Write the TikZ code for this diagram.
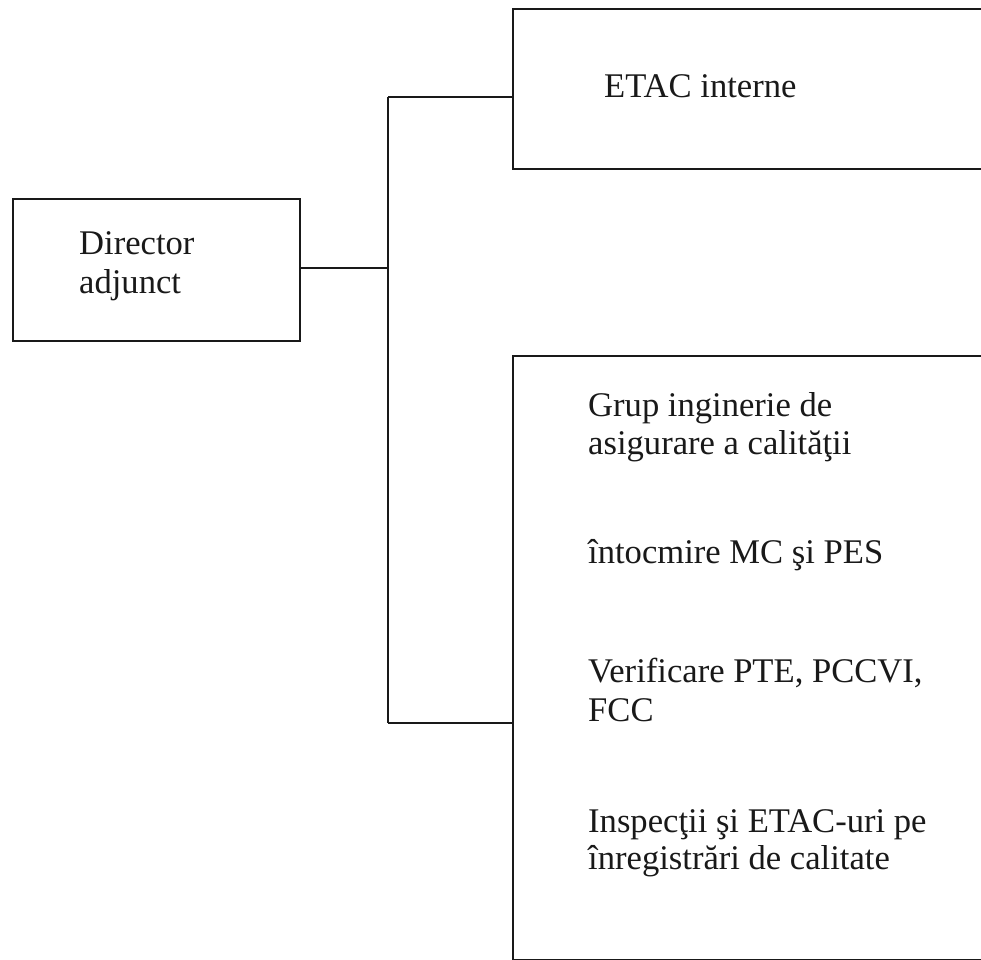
\documentclass[tikz,border=0pt]{standalone}
\usepackage{fontspec}
\setmainfont{Liberation Serif}
\begin{document}
\begin{tikzpicture}[x=1pt,y=-1pt,
  box/.style={draw=black!90, line width=2.2pt, inner sep=0pt, anchor=north west},
  conn/.style={draw=black!90, line width=1.8pt},
  txt/.style={anchor=base west, inner sep=0pt, text=black!90, font=\fontsize{34.6}{39}\selectfont}]
\useasboundingbox (0,0) rectangle (981,959);
\clip (0,0) rectangle (981,959);
% boxes
\node[box, minimum width=287pt, minimum height=142pt] (dir) at (12,198) {};
\node[box, minimum width=520pt, minimum height=160pt] (etac) at (512,8) {};
\node[box, minimum width=520pt, minimum height=603.5pt] (grp) at (512,355) {};
% texts
\node[txt] (d1) at (79,254) {Director};
\node[txt] (d2) at (79,293) {adjunct};
\node[txt] (e1) at (604,97) {ETAC interne};
\node[txt] (g1) at (588,416) {Grup inginerie de};
\node[txt] (g2) at (588,454) {asigurare a calităţii};
\node[txt] (g3) at (588,563) {întocmire MC şi PES};
\node[txt] (g4) at (588,682) {Verificare PTE, PCCVI,};
\node[txt] (g5) at (588,721) {FCC};
\node[txt] (g6) at (588,832) {Inspecţii şi ETAC-uri pe};
\node[txt] (g7) at (588,869) {înregistrări de calitate};
% connectors
\coordinate (jm) at (388,268);
\coordinate (jt) at (388,97);
\coordinate (jb) at (388,723);
\draw[conn] (dir.east |- jm) -- (jm);
\draw[conn] (jt) -- (jb);
\draw[conn] (jt) -- (jt -| etac.west);
\draw[conn] (jb) -- (jb -| grp.west);
\end{tikzpicture}
\end{document}
